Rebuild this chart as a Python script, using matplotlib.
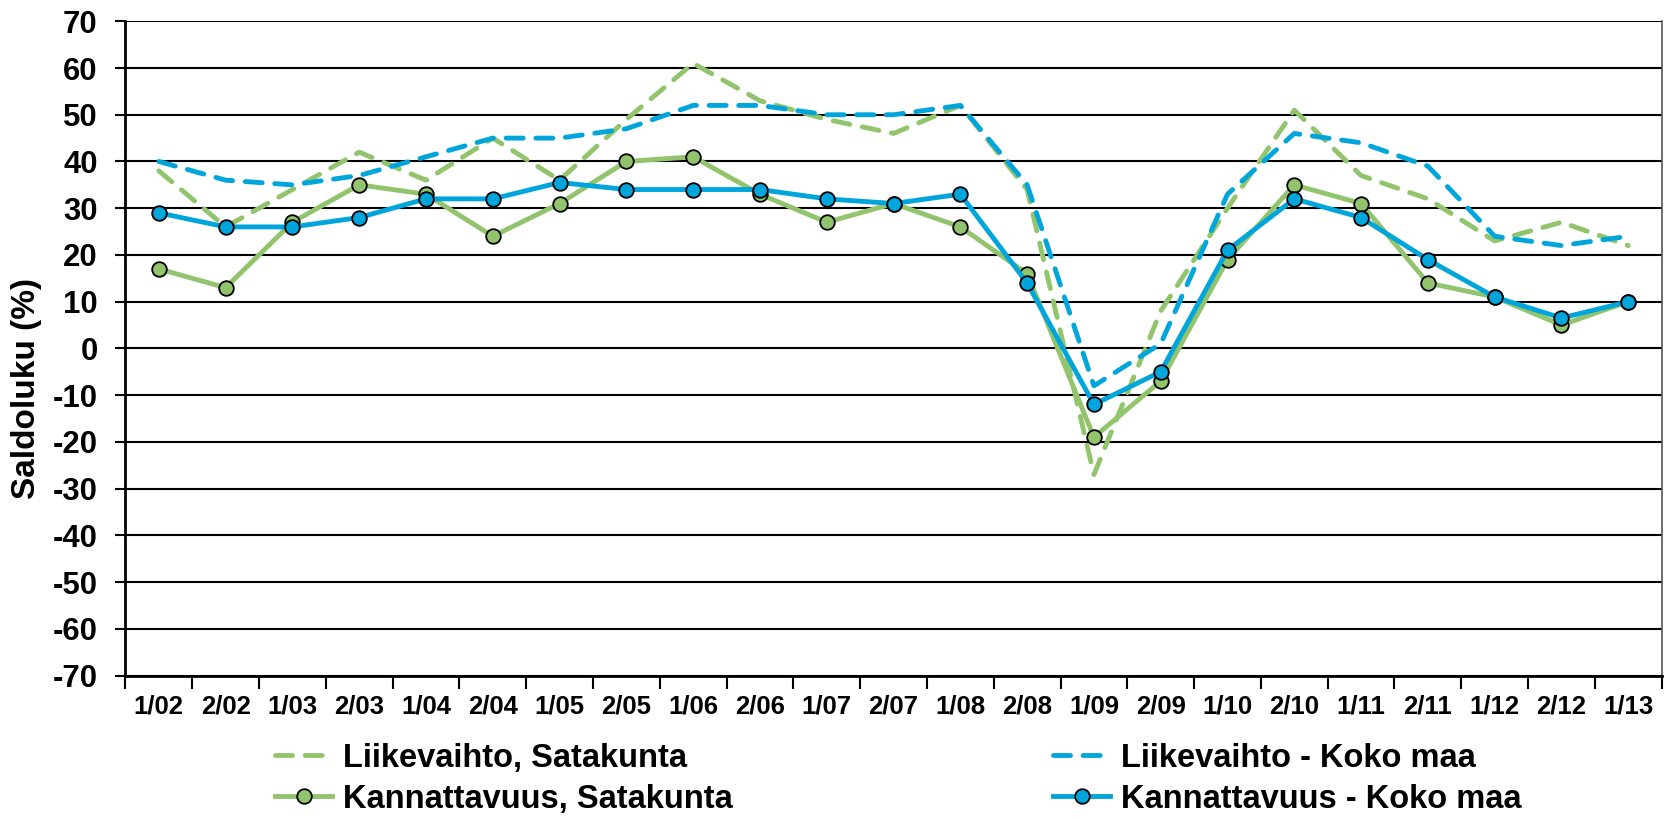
import numpy as np
import matplotlib.pyplot as plt

# jaksot (puolivuosi/vuosi)
periods = ['1/02', '2/02', '1/03', '2/03', '1/04', '2/04', '1/05', '2/05',
           '1/06', '2/06', '1/07', '2/07', '1/08', '2/08', '1/09', '2/09',
           '1/10', '2/10', '1/11', '2/11', '1/12', '2/12', '1/13']

liikevaihto_sk = [38, 26, 34, 42, 36, 45, 36, 49, 61, 53, 49, 46, 52, 34,
                  -27, 8, 30, 51, 37, 32, 23, 27, 22]
liikevaihto_km = [40, 36, 35, 37, 41, 45, 45, 47, 52, 52, 50, 50, 52, 35,
                  -8, 1, 33, 46, 44, 39, 24, 22, 24]
kannattavuus_sk = [17, 13, 27, 35, 33, 24, 31, 40, 41, 33, 27, 31, 26, 16,
                   -19, -7, 19, 35, 31, 14, 11, 5, 10]
kannattavuus_km = [29, 26, 26, 28, 32, 32, 35.5, 34, 34, 34, 32, 31, 33, 14,
                   -12, -5, 21, 32, 28, 19, 11, 6.5, 10]

green = '#92C46D'
blue = '#00A5DC'

plt.rcParams['font.family'] = ['Liberation Sans', 'DejaVu Sans']
plt.rcParams['axes.unicode_minus'] = False

fig = plt.figure(figsize=(16.68, 8.19), dpi=100)
ax = fig.add_axes([0.0752, 0.1752, 0.921, 0.7988])

x = np.arange(len(periods))
lw = 3.5
l1, = ax.plot(x, liikevaihto_sk, color=green, lw=lw, dashes=(3.5, 2.6),
              dash_capstyle='round', label='Liikevaihto, Satakunta', zorder=3)
l2, = ax.plot(x, liikevaihto_km, color=blue, lw=lw, dashes=(3.5, 2.6),
              dash_capstyle='round', label='Liikevaihto - Koko maa', zorder=4)
l3, = ax.plot(x, kannattavuus_sk, color=green, lw=lw, marker='o', ms=10.5,
              mfc=green, mec='black', mew=1.3, label='Kannattavuus, Satakunta', zorder=5)
l4, = ax.plot(x, kannattavuus_km, color=blue, lw=lw, marker='o', ms=10.5,
              mfc=blue, mec='black', mew=1.3, label='Kannattavuus - Koko maa', zorder=6)

ax.set_xlim(-0.5, len(periods) - 0.5)
ax.set_ylim(-70, 70)
ax.set_yticks(np.arange(-70, 71, 10))
ax.yaxis.grid(True, color='black', lw=1.5)
ax.set_axisbelow(True)

ax.set_xticks(x)
ax.set_xticklabels(periods, fontsize=18.5, fontweight='bold')
ax.set_xticks(np.arange(-0.5, len(periods), 1), minor=True)
ax.tick_params(axis='x', which='major', length=0, pad=14)
ax.tick_params(axis='x', which='minor', length=9, width=1.5, direction='out')
ax.tick_params(axis='y', length=7, width=1.5, direction='out', labelsize=22.4, pad=13)
for lab in ax.get_yticklabels():
    lab.set_fontweight('bold')

for side in ['left', 'bottom']:
    ax.spines[side].set_linewidth(2)
ax.spines['right'].set_linewidth(1.2)
ax.spines['right'].set_color('#555555')
ax.spines['top'].set_visible(False)

ax.set_ylabel('Saldoluku (%)', fontsize=24, fontweight='bold')
ax.yaxis.set_label_coords(-0.0544, 0.438)

# legend: four single entries placed in two columns
leg_kw = dict(frameon=False, handlelength=1.75, handletextpad=0.34,
              borderpad=0, borderaxespad=0, loc='center left',
              prop={'weight': 'bold', 'size': 23.5})
spots = [(l1, 0.1649, 0.074), (l3, 0.1649, 0.024),
         (l2, 0.6313, 0.074), (l4, 0.6313, 0.024)]
for h, px, py in spots:
    fig.legend(handles=[h], bbox_to_anchor=(px, py), **leg_kw)

fig.savefig('out.png', dpi=100)
